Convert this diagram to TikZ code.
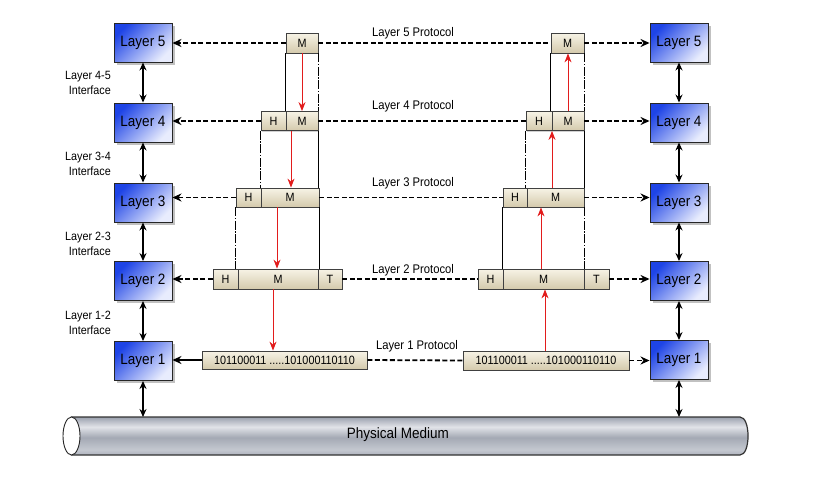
\documentclass[tikz,border=0pt]{standalone}
\usepackage{fontspec}
\setmainfont{Liberation Sans}[FakeStretch=0.9]
\usetikzlibrary{arrows.meta,shadows,calc}
\definecolor{bdark}{RGB}{30,68,230}
\definecolor{blight}{RGB}{232,236,253}
\definecolor{ptop}{RGB}{247,243,230}
\definecolor{pbot}{RGB}{212,202,172}
\definecolor{redarr}{RGB}{226,28,28}
\definecolor{m0}{RGB}{96,102,116}
\definecolor{m1}{RGB}{136,142,156}
\definecolor{m2}{RGB}{196,200,208}
\definecolor{m3}{RGB}{164,169,180}
\definecolor{m4}{RGB}{225,227,232}
\definecolor{m5}{RGB}{150,156,170}
\definecolor{m6}{RGB}{202,206,214}
\definecolor{m7}{RGB}{124,130,144}
\pgfdeclareverticalshading{metal}{100bp}{color(0bp)=(m0); color(12bp)=(m1); color(32bp)=(m2); color(48bp)=(m3); color(62bp)=(m4); color(76bp)=(m5); color(90bp)=(m6); color(100bp)=(m7)}
\begin{document}
\begin{tikzpicture}[x=1pt,y=-1pt,
 layerbox/.style={draw=black!85, line width=0.9pt, top color=bdark, bottom color=blight, shading angle=45,
   minimum width=58pt, minimum height=39pt, inner sep=0pt, font=\fontsize{15}{15}\selectfont,
   drop shadow={shadow xshift=2.5pt, shadow yshift=-2.5pt, fill=gray!70, opacity=0.7}},
 pk/.style={draw=black!75, line width=0.8pt, top color=ptop, bottom color=pbot, minimum height=19pt,
   inner sep=0pt, font=\fontsize{12}{12}\selectfont,
   drop shadow={shadow xshift=1.2pt, shadow yshift=-1.2pt, fill=gray!60, opacity=0.6}},
 proto/.style={font=\fontsize{12.5}{13}\selectfont},
 iface/.style={font=\fontsize{12}{15}\selectfont, align=right, anchor=east, inner sep=0pt},
 protoline/.style={dash pattern=on 5pt off 2.5pt, line width=1.8pt},
 tipL/.style={-{Stealth[length=9pt,width=8pt]}},
 dbl/.style={{Stealth[length=8pt,width=7pt]}-{Stealth[length=8pt,width=7pt]}, line width=1.5pt},
 redar/.style={draw=redarr, line width=1pt, -{Stealth[length=9pt,width=7pt]}},
 vsolid/.style={line width=1.5pt},
 vdash/.style={line width=1.5pt, dash pattern=on 9pt off 1.5pt on 1.5pt off 1.5pt},
]
\useasboundingbox (0,0) rectangle (817,490);

% physical medium
\shadedraw[shading=metal, draw=black!80, line width=1.2pt] (71.5,417) -- (740,417) .. controls (750.7,417) and (750.7,455) .. (740,455) -- (71.5,455) -- cycle;
\draw[fill=white, draw=black!85, line width=0.9pt] (71.5,436) ellipse [x radius=8.5pt, y radius=19pt];
\node[font=\fontsize{15}{15}\selectfont] (pm) at (398,435) {Physical Medium};
\coordinate (pmL) at (143,417);
\coordinate (pmR) at (679,417);

% layer boxes
\node[layerbox] (L5) at (143,42.5) {Layer 5};
\node[layerbox] (L4) at (143,122.5) {Layer 4};
\node[layerbox] (L3) at (143,202.5) {Layer 3};
\node[layerbox] (L2) at (143,281) {Layer 2};
\node[layerbox] (L1) at (143,361) {Layer 1};
\node[layerbox] (R5) at (679,42.5) {Layer 5};
\node[layerbox] (R4) at (679,122.5) {Layer 4};
\node[layerbox] (R3) at (679,202.5) {Layer 3};
\node[layerbox] (R2) at (679,281) {Layer 2};
\node[layerbox] (R1) at (679,360) {Layer 1};

% interface labels
\node[iface] (i45) at (111,83) {Layer 4-5\\Interface};
\node[iface] (i34) at (111,164) {Layer 3-4\\Interface};
\node[iface] (i23) at (111,244) {Layer 2-3\\Interface};
\node[iface] (i12) at (111,323) {Layer 1-2\\Interface};

% left packets
\node[pk, minimum width=32pt, minimum height=20pt] (lM5) at (302,43) {M};
\node[pk, minimum width=25pt] (lH4) at (273.5,121) {H};
\node[pk, minimum width=32pt] (lM4) at (302,121) {M};
\node[pk, minimum width=25pt] (lH3) at (248.5,197.5) {H};
\node[pk, minimum width=58pt] (lM3) at (290,197.5) {M};
\node[pk, minimum width=25pt, minimum height=20pt] (lH2) at (225.5,279) {H};
\node[pk, minimum width=80pt, minimum height=20pt] (lM2) at (278,279) {M};
\node[pk, minimum width=24pt, minimum height=20pt] (lT2) at (330,279) {T};
\node[pk, minimum width=165pt, minimum height=18pt] (lB1) at (284.5,360) {101100011 .....101000110110};

% right packets
\node[pk, minimum width=33pt, minimum height=20pt] (rM5) at (567.5,43) {M};
\node[pk, minimum width=26pt] (rH4) at (539,121) {H};
\node[pk, minimum width=32pt] (rM4) at (568,121) {M};
\node[pk, minimum width=24pt] (rH3) at (515,197.5) {H};
\node[pk, minimum width=57pt] (rM3) at (555.5,197.5) {M};
\node[pk, minimum width=25pt, minimum height=20pt] (rH2) at (490.5,279) {H};
\node[pk, minimum width=81pt, minimum height=20pt] (rM2) at (543.5,279) {M};
\node[pk, minimum width=25pt, minimum height=20pt] (rT2) at (596.5,279) {T};
\node[pk, minimum width=166pt, minimum height=19pt] (rB1) at (546,360.5) {101100011 .....101000110110};

% protocol labels
\node[proto] (p5) at (413,33) {Layer 5 Protocol};
\node[proto] (p4) at (413,106) {Layer 4 Protocol};
\node[proto] (p3) at (413,183) {Layer 3 Protocol};
\node[proto] (p2) at (413,270) {Layer 2 Protocol};
\node[proto] (p1) at (417,346) {Layer 1 Protocol};

% protocol lines
\draw[protoline] (lM5.east) -- (rM5.west);
\draw[protoline] (lM4.east) -- (rH4.west);
\draw[protoline] (lM3.east) -- (rH3.west);
\draw[protoline] (lT2.east) -- (rH2.west);
\draw[protoline] (lB1.east) -- (rB1.west);

% arrows to layer boxes
\draw[protoline, tipL] (lM5.west) -- (lM5.west -| L5.east);
\draw[protoline, tipL] (lH4.west) -- (lH4.west -| L4.east);
\draw[protoline, tipL] (lH3.west) -- (lH3.west -| L3.east);
\draw[protoline, tipL] (lH2.west) -- (lH2.west -| L2.east);
\draw[line width=1.8pt, tipL] (lB1.west) -- (lB1.west -| L1.east);
\draw[protoline, tipL] (rM5.east) -- (rM5.east -| R5.west);
\draw[protoline, tipL] (rM4.east) -- (rM4.east -| R4.west);
\draw[protoline, tipL] (rM3.east) -- (rM3.east -| R3.west);
\draw[protoline, tipL] (rT2.east) -- (rT2.east -| R2.west);
\draw[protoline, tipL] (rB1.east) -- (rB1.east -| R1.west);

% interface double arrows
\draw[dbl] (L5.south) -- (L4.north);
\draw[dbl] (L4.south) -- (L3.north);
\draw[dbl] (L3.south) -- (L2.north);
\draw[dbl] (L2.south) -- (L1.north);
\draw[dbl] (L1.south) -- (pmL);
\draw[dbl] (R5.south) -- (R4.north);
\draw[dbl] (R4.south) -- (R3.north);
\draw[dbl] (R3.south) -- (R2.north);
\draw[dbl] (R2.south) -- (R1.north);
\draw[dbl] (R1.south) -- (pmR);

% encapsulation guide lines (left)
\draw[vsolid] (lM5.south west) -- (lM5.south west |- lM4.north);
\draw[vdash] (lM5.south east) -- (lM5.south east |- lM4.north);
\draw[vdash] (lH4.south west) -- (lH4.south west |- lH3.north);
\draw[vsolid] (lM4.south east) -- (lM4.south east |- lM3.north);
\draw[vdash] (lH3.south west) -- (lH3.south west |- lH2.north);
\draw[vsolid] (lM3.south east) -- (lM3.south east |- lM2.north);
% (right)
\draw[vsolid] (rM5.south west) -- (rM5.south west |- rM4.north);
\draw[vdash] (rM5.south east) -- (rM5.south east |- rM4.north);
\draw[vdash] (rH4.south west) -- (rH4.south west |- rH3.north);
\draw[vsolid] (rM4.south east) -- (rM4.south east |- rM3.north);
\draw[vsolid] (rH3.south west) -- (rH3.south west |- rH2.north);
\draw[vdash] (rM3.south east) -- (rM3.south east |- rM2.north);

% red data flow arrows
\coordinate (a1) at ([xshift=-11pt]lM4.south);
\coordinate (a2) at ([xshift=-13pt]lM3.south);
\coordinate (a3) at ([xshift=-5pt]lM2.south);
\draw[redar] (lM5.south) -- (lM5.south |- lM4.north);
\draw[redar] (a1) -- (a1 |- lM3.north);
\draw[redar] (a2) -- (a2 |- lM2.north);
\draw[redar] (a3) -- (a3 |- lB1.north);
\coordinate (b1) at ([xshift=-1pt]rB1.north);
\coordinate (b2) at ([xshift=-2.5pt]rM2.north);
\coordinate (b3) at ([xshift=-3.5pt]rM3.north);
\draw[redar] (b1) -- (b1 |- rM2.south);
\draw[redar] (b2) -- (b2 |- rM3.south);
\draw[redar] (b3) -- (b3 |- rM4.south);
\draw[redar] (rM4.north) -- (rM4.north |- rM5.south);
\end{tikzpicture}
\end{document}
